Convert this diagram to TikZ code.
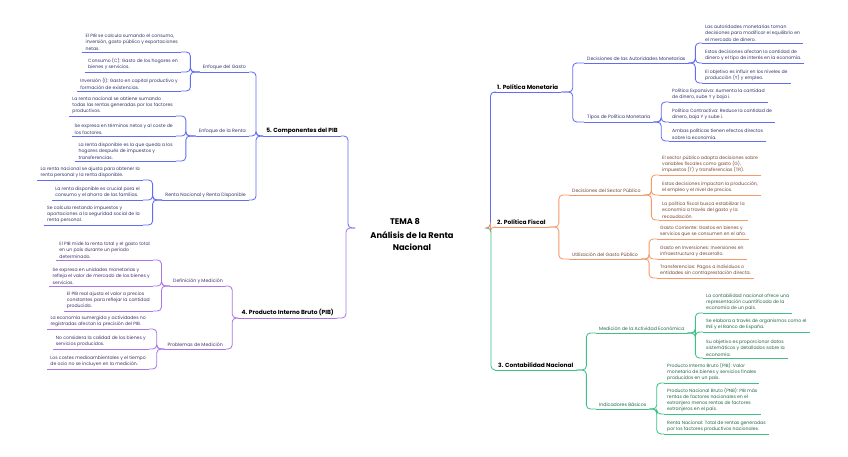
\documentclass[tikz,border=0pt]{standalone}
\usepackage{fontspec}
\setmainfont{Poppins}
\usetikzlibrary{calc}
\definecolor{cblue}{RGB}{98,110,242}
\definecolor{cpurp}{RGB}{170,120,230}
\definecolor{corange}{RGB}{246,152,104}
\definecolor{cgreen}{RGB}{62,192,134}
\definecolor{tblue}{RGB}{50,54,110}
\definecolor{tpurp}{RGB}{68,50,105}
\definecolor{torange}{RGB}{118,72,52}
\definecolor{tgreen}{RGB}{38,104,74}
\tikzset{
  leaf/.style={inner xsep=3pt, inner ysep=1.7pt, align=left, font=\fontsize{4.6}{6.3}\selectfont},
  sub/.style={inner xsep=3pt, inner ysep=1.9pt, align=left, font=\fontsize{4.7}{6}\selectfont},
  mainn/.style={inner xsep=3pt, inner ysep=2.2pt, font=\fontsize{5.9}{7}\selectfont\bfseries, text=black},
  lnB/.style={draw=cblue, line width=0.85pt, rounded corners=4pt},
  lnP/.style={draw=cpurp, line width=0.85pt, rounded corners=4pt},
  lnO/.style={draw=corange, line width=0.85pt, rounded corners=4pt},
  lnG/.style={draw=cgreen, line width=0.85pt, rounded corners=4pt},
}
\newcommand\lk[3]{\path ($(#2)!.5!(#3)$) coordinate (mtmp); \draw[#1] (#2) -- (mtmp |- #2) |- (#3);}
\newcommand\ul[2]{\draw[#1] (#2.south west) -- (#2.south east);}
\begin{document}
\begin{tikzpicture}[x=1pt,y=-1pt]
\useasboundingbox (0,0) rectangle (848,456);
\fill[white] (0,0) rectangle (848,456);

% ---------- center ----------
\node[font=\fontsize{8.2}{9}\selectfont\bfseries, inner sep=0pt] (tema) at (405,221) {TEMA 8};
\node[font=\fontsize{8.3}{12.5}\selectfont\bfseries, align=center, inner sep=0pt] (root) at (412,241) {Análisis de la Renta\\Nacional};
\coordinate (rootL) at (355,228);
\coordinate (rootR) at (487,228);

% ---------- 5. Componentes del PIB (blue, left) ----------
\node[mainn, anchor=south east] (c5) at (341,136) {5. Componentes del PIB};
\node[sub, text=tblue, anchor=south east] (g1) at (249,72) {Enfoque del Gasto};
\node[sub, text=tblue, anchor=south east] (g2) at (249,136) {Enfoque de la Renta};
\node[sub, text=tblue, anchor=south east] (g3) at (249,200) {Renta Nacional y Renta Disponible};

\node[leaf, text=tblue, anchor=south east] (g1a) at (181,52) {El PIB se calcula sumando el consumo,\\inversión, gasto público y exportaciones\\netas.};
\node[leaf, text=tblue, anchor=south east] (g1b) at (181,72) {Consumo (C): Gasto de los hogares en\\bienes y servicios.};
\node[leaf, text=tblue, anchor=south east] (g1c) at (181,91) {Inversión (I): Gasto en capital productivo y\\formación de existencias.};

\node[leaf, text=tblue, anchor=south east] (g2a) at (176,116) {La renta nacional se obtiene sumando\\todas las rentas generadas por los factores\\productivos.};
\node[leaf, text=tblue, anchor=south east] (g2b) at (176,136) {Se expresa en términos netos y al coste de\\los factores.};
\node[leaf, text=tblue, anchor=south east] (g2c) at (176,161) {La renta disponible es la que queda a los\\hogares después de impuestos y\\transferencias.};

\node[leaf, text=tblue, anchor=south east] (g3a) at (143,180) {La renta nacional se ajusta para obtener la\\renta personal y la renta disponible.};
\node[leaf, text=tblue, anchor=south east] (g3b) at (143,200) {La renta disponible es crucial para el\\consumo y el ahorro de las familias.};
\node[leaf, text=tblue, anchor=south east] (g3c) at (143,225) {Se calcula restando impuestos y\\aportaciones a la seguridad social de la\\renta personal.};

\foreach \n in {c5,g1,g2,g3,g1a,g1b,g1c,g2a,g2b,g2c,g3a,g3b,g3c} {\ul{lnB}{\n}}
\lk{lnB}{rootL}{c5.south east}
\foreach \n in {g1,g2,g3} {\lk{lnB}{c5.south west}{\n.south east}}
\foreach \n in {g1a,g1b,g1c} {\lk{lnB}{g1.south west}{\n.south east}}
\foreach \n in {g2a,g2b,g2c} {\lk{lnB}{g2.south west}{\n.south east}}
\foreach \n in {g3a,g3b,g3c} {\lk{lnB}{g3.south west}{\n.south east}}

% ---------- 4. Producto Interno Bruto (purple, left) ----------
\node[mainn, anchor=south east] (p4) at (337,318) {4. Producto Interno Bruto (PIB)};
\node[sub, text=tpurp, anchor=south east] (d1) at (226,286) {Definición y Medición};
\node[sub, text=tpurp, anchor=south east] (d2) at (226,349) {Problemas de Medición};

\node[leaf, text=tpurp, anchor=south east] (d1a) at (153,260) {El PIB mide la renta total y el gasto total\\en un país durante un periodo\\determinado.};
\node[leaf, text=tpurp, anchor=south east] (d1b) at (153,286) {Se expresa en unidades monetarias y\\refleja el valor de mercado de los bienes y\\servicios.};
\node[leaf, text=tpurp, anchor=south east] (d1c) at (153,311) {El PIB real ajusta el valor a precios\\constantes para reflejar la cantidad\\producida.};

\node[leaf, text=tpurp, anchor=south east] (d2a) at (149,329) {La economía sumergida y actividades no\\registradas afectan la precisión del PIB.};
\node[leaf, text=tpurp, anchor=south east] (d2b) at (149,349) {No considera la calidad de los bienes y\\servicios producidos.};
\node[leaf, text=tpurp, anchor=south east] (d2c) at (149,369) {Los costes medioambientales y el tiempo\\de ocio no se incluyen en la medición.};

\foreach \n in {p4,d1,d2,d1a,d1b,d1c,d2a,d2b,d2c} {\ul{lnP}{\n}}
\lk{lnP}{rootL}{p4.south east}
\foreach \n in {d1,d2} {\lk{lnP}{p4.south west}{\n.south east}}
\foreach \n in {d1a,d1b,d1c} {\lk{lnP}{d1.south west}{\n.south east}}
\foreach \n in {d2a,d2b,d2c} {\lk{lnP}{d2.south west}{\n.south east}}

% ---------- 1. Politica Monetaria (blue, right) ----------
\node[mainn, anchor=south west] (m1) at (494,92) {1. Política Monetaria};
\node[sub, text=tblue, anchor=south west] (a1) at (584,63) {Decisiones de las Autoridades Monetarias};
\node[sub, text=tblue, anchor=south west] (a2) at (584,122) {Tipos de Política Monetaria};

\node[leaf, text=tblue, anchor=south west] (a1a) at (702,43) {Las autoridades monetarias toman\\decisiones para modificar el equilibrio en\\el mercado de dinero.};
\node[leaf, text=tblue, anchor=south west] (a1b) at (702,63) {Estas decisiones afectan la cantidad de\\dinero y el tipo de interés en la economía.};
\node[leaf, text=tblue, anchor=south west] (a1c) at (702,83) {El objetivo es influir en los niveles de\\producción (Y) y empleo.};

\node[leaf, text=tblue, anchor=south west] (a2a) at (669,102) {Política Expansiva: Aumenta la cantidad\\de dinero, sube Y y baja i.};
\node[leaf, text=tblue, anchor=south west] (a2b) at (669,122) {Política Contractiva: Reduce la cantidad de\\dinero, baja Y y sube i.};
\node[leaf, text=tblue, anchor=south west] (a2c) at (669,141) {Ambas políticas tienen efectos directos\\sobre la economía.};

\foreach \n in {m1,a1,a2,a1a,a1b,a1c,a2a,a2b,a2c} {\ul{lnB}{\n}}
\lk{lnB}{rootR}{m1.south west}
\foreach \n in {a1,a2} {\lk{lnB}{m1.south east}{\n.south west}}
\foreach \n in {a1a,a1b,a1c} {\lk{lnB}{a1.south east}{\n.south west}}
\foreach \n in {a2a,a2b,a2c} {\lk{lnB}{a2.south east}{\n.south west}}

% ---------- 2. Politica Fiscal (orange, right) ----------
\node[mainn, anchor=south west] (f2) at (494,227) {2. Política Fiscal};
\node[sub, text=torange, anchor=south west] (b1) at (569,195) {Decisiones del Sector Público};
\node[sub, text=torange, anchor=south west] (b2) at (569,259) {Utilización del Gasto Público};

\node[leaf, text=torange, anchor=south west] (b1a) at (659,175) {El sector público adopta decisiones sobre\\variables fiscales como gasto (G),\\impuestos (T) y transferencias (TR).};
\node[leaf, text=torange, anchor=south west] (b1b) at (659,195) {Estas decisiones impactan la producción,\\el empleo y el nivel de precios.};
\node[leaf, text=torange, anchor=south west] (b1c) at (659,220) {La política fiscal busca estabilizar la\\economía a través del gasto y la\\recaudación.};

\node[leaf, text=torange, anchor=south west] (b2a) at (657,239) {Gasto Corriente: Gastos en bienes y\\servicios que se consumen en el año.};
\node[leaf, text=torange, anchor=south west] (b2b) at (657,259) {Gasto en Inversiones: Inversiones en\\infraestructura y desarrollo.};
\node[leaf, text=torange, anchor=south west] (b2c) at (657,278) {Transferencias: Pagos a individuos o\\entidades sin contraprestación directa.};

\foreach \n in {f2,b1,b2,b1a,b1b,b1c,b2a,b2b,b2c} {\ul{lnO}{\n}}
\lk{lnO}{rootR}{f2.south west}
\foreach \n in {b1,b2} {\lk{lnO}{f2.south east}{\n.south west}}
\foreach \n in {b1a,b1b,b1c} {\lk{lnO}{b1.south east}{\n.south west}}
\foreach \n in {b2a,b2b,b2c} {\lk{lnO}{b2.south east}{\n.south west}}

% ---------- 3. Contabilidad Nacional (green, right) ----------
\node[mainn, anchor=south west] (k3) at (495,370) {3. Contabilidad Nacional};
\node[sub, text=tgreen, anchor=south west] (e1) at (596,333) {Medición de la Actividad Económica};
\node[sub, text=tgreen, anchor=south west] (e2) at (596,409) {Indicadores Básicos};

\node[leaf, text=tgreen, anchor=south west] (e1a) at (703,313) {La contabilidad nacional ofrece una\\representación cuantificada de la\\economía de un país.};
\node[leaf, text=tgreen, anchor=south west] (e1b) at (703,332) {Se elabora a través de organismos como el\\INE y el Banco de España.};
\node[leaf, text=tgreen, anchor=south west] (e1c) at (703,358) {Su objetivo es proporcionar datos\\sistemáticos y detallados sobre la\\economía.};

\node[leaf, text=tgreen, anchor=south west] (e2a) at (664,383) {Producto Interno Bruto (PIB): Valor\\monetario de bienes y servicios finales\\producidos en un país.};
\node[leaf, text=tgreen, anchor=south west] (e2b) at (664,414) {Producto Nacional Bruto (PNB): PIB más\\rentas de factores nacionales en el\\extranjero menos rentas de factores\\extranjeros en el país.};
\node[leaf, text=tgreen, anchor=south west] (e2c) at (664,434) {Renta Nacional: Total de rentas generadas\\por los factores productivos nacionales.};

\foreach \n in {k3,e1,e2,e1a,e1b,e1c,e2a,e2b,e2c} {\ul{lnG}{\n}}
\lk{lnG}{rootR}{k3.south west}
\foreach \n in {e1,e2} {\lk{lnG}{k3.south east}{\n.south west}}
\foreach \n in {e1a,e1b,e1c} {\lk{lnG}{e1.south east}{\n.south west}}
\foreach \n in {e2a,e2b,e2c} {\lk{lnG}{e2.south east}{\n.south west}}
\end{tikzpicture}
\end{document}
